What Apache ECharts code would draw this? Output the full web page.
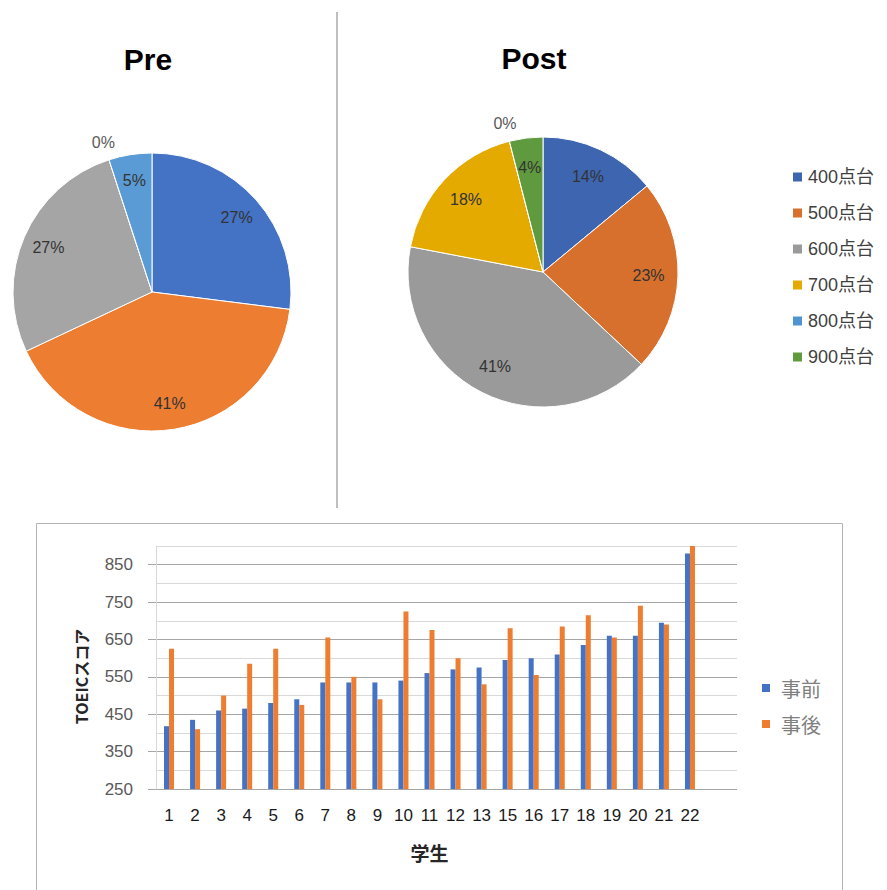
<!DOCTYPE html>
<html><head><meta charset="utf-8">
<script src="https://cdn.jsdelivr.net/npm/echarts@6/dist/echarts.min.js"></script>
<style>html,body{margin:0;padding:0;background:#fff}#c{width:887px;height:890px}</style>
</head><body><div id="c"></div>
<script>
// ---- data ----
const scoreBands = ['400点台', '500点台', '600点台', '700点台', '800点台', '900点台'];
const prePercents = [27, 41, 27, 0, 5];
const postPercents = [14, 23, 41, 18, 0, 4];
const students = ['1','2','3','4','5','6','7','8','9','10','11','12','13','15','16','17','18','19','20','21','22'];
const preScores  = [418, 435, 460, 465, 480, 490, 535, 535, 535, 540, 560, 570, 575, 595, 600, 610, 635, 660, 660, 695, 880];
const postScores = [625, 410, 500, 585, 625, 475, 655, 550, 490, 725, 675, 600, 530, 680, 555, 685, 715, 655, 740, 690, 900];
const yTickLabels = [250, 350, 450, 550, 650, 750, 850];

// ---- styles ----
const preColors = ['#4472c4', '#ed7d31', '#a5a5a5', '#ffc000', '#5b9bd5'];
const postColors = ['#3d65b0', '#d6702c', '#9a9a9a', '#e4aa00', '#5094cf', '#5f9a3f'];
const FONT = "'Liberation Sans', 'Noto Sans CJK JP', sans-serif";
const CJK = "'Noto Sans CJK JP', 'Liberation Sans', sans-serif";

function pieData(vals, colors) {
  return vals.map((v, i) => ({ name: scoreBands[i], value: v, itemStyle: { color: colors[i] } }));
}
function labelData(vals, zeroOnly) {
  return vals.map((v, i) => ({ name: scoreBands[i], value: v, label: { show: zeroOnly ? v === 0 : v > 0 } }));
}
function pieSet(vals, colors, center, r, inner) {
  const common = { type: 'pie', center: center, startAngle: 90, clockwise: true, animation: false, emphasis: { disabled: true } };
  return [
    Object.assign({}, common, {
      radius: [0, r], data: pieData(vals, colors),
      label: { show: false }, labelLine: { show: false },
      itemStyle: { borderColor: '#ffffff', borderWidth: 1 }
    }),
    Object.assign({}, common, {
      radius: [r * inner, r], silent: true, data: labelData(vals, false),
      itemStyle: { color: 'rgba(0,0,0,0)' }, labelLine: { show: false },
      label: { position: 'inside', formatter: '{c}%', fontSize: 16, color: '#333333', fontFamily: FONT }
    }),
    Object.assign({}, common, {
      radius: [r, r * 1.22], silent: true, data: labelData(vals, true),
      itemStyle: { color: 'rgba(0,0,0,0)' }, labelLine: { show: false },
      label: { position: 'inside', formatter: '{c}%', fontSize: 16, color: '#595959', fontFamily: FONT }
    })
  ];
}

const chart = echarts.init(document.getElementById('c'), null, { renderer: 'svg' });

const option = {
  backgroundColor: '#ffffff',
  animation: false,
  graphic: [
    { type: 'line', shape: { x1: 337, y1: 12, x2: 337, y2: 508 }, style: { stroke: '#bfbfbf', lineWidth: 2 } },
    { type: 'rect', shape: { x: 36.5, y: 523.5, width: 806, height: 420 }, style: { stroke: '#b4b4b4', fill: null, lineWidth: 1 } },
    { type: 'text', x: 148, y: 59, style: { text: 'Pre', font: "bold 30px 'Liberation Sans', sans-serif", fill: '#000', textAlign: 'center', textVerticalAlign: 'middle' } },
    { type: 'text', x: 534, y: 58, style: { text: 'Post', font: "bold 30px 'Liberation Sans', sans-serif", fill: '#000', textAlign: 'center', textVerticalAlign: 'middle' } }
  ],
  legend: [
    {
      data: scoreBands, orient: 'vertical', left: 786, top: 163,
      itemWidth: 11, itemHeight: 11, itemGap: 18, icon: 'rect', selectedMode: false,
      textStyle: { fontSize: 18, color: '#404040', fontFamily: FONT }
    },
    {
      data: ['事前', '事後'], orient: 'vertical', left: 757, top: 673,
      itemWidth: 8, itemHeight: 8, itemGap: 16, icon: 'rect', selectedMode: false,
      textStyle: { fontSize: 20, color: '#7f7f7f', fontFamily: CJK, padding: [0, 0, 0, 6] }
    }
  ],
  grid: [
    { left: 156, top: 546, width: 581, height: 243 },
    { left: 156, top: 546, width: 547, height: 243 }
  ],
  xAxis: [
    { gridIndex: 0, type: 'value', show: false, min: 0, max: 1 },
    {
      gridIndex: 1, type: 'category', data: students,
      axisLine: { show: false }, axisTick: { show: false },
      axisLabel: { interval: 0, fontSize: 17, color: '#1a1a1a', margin: 18, fontFamily: FONT },
      name: '学生', nameLocation: 'middle', nameGap: 54,
      nameTextStyle: { fontSize: 19, fontWeight: 'bold', color: '#262626', fontFamily: CJK }
    }
  ],
  yAxis: [
    {
      gridIndex: 0, type: 'value', min: 250, max: 900, interval: 50,
      axisLine: { show: true, lineStyle: { color: '#d9d9d9', width: 1 } },
      axisTick: { show: false }, axisLabel: { show: false },
      splitLine: { show: true, lineStyle: { color: ['#a6a6a6', '#d9d9d9'], width: 1 } }
    },
    {
      gridIndex: 1, type: 'value', min: 250, max: 900, interval: 50,
      axisLine: { show: false },
      axisTick: { show: true, customValues: yTickLabels, length: 8, lineStyle: { color: '#a6a6a6' } },
      axisLabel: { customValues: yTickLabels, fontSize: 17, color: '#595959', margin: 23, fontFamily: FONT },
      splitLine: { show: false },
      name: 'TOEICスコア', nameLocation: 'middle', nameGap: 67,
      nameTextStyle: { fontSize: 16, color: '#262626', fontWeight: 'bold', fontFamily: CJK, padding: [0, 18, 0, 0] }
    }
  ],
  series: [].concat(
    pieSet(postPercents, postColors, [543, 272], 135, 0.52),
    pieSet(prePercents, preColors, [152, 292], 139, 0.58),
    [
      { type: 'bar', name: '事前', xAxisIndex: 1, yAxisIndex: 1, data: preScores, barWidth: 5, barGap: '0%', itemStyle: { color: '#4472c4' } },
      { type: 'bar', name: '事後', xAxisIndex: 1, yAxisIndex: 1, data: postScores, barWidth: 5, barGap: '0%', itemStyle: { color: '#ed7d31' } }
    ]
  )
};
chart.setOption(option);
</script>
</body></html>
